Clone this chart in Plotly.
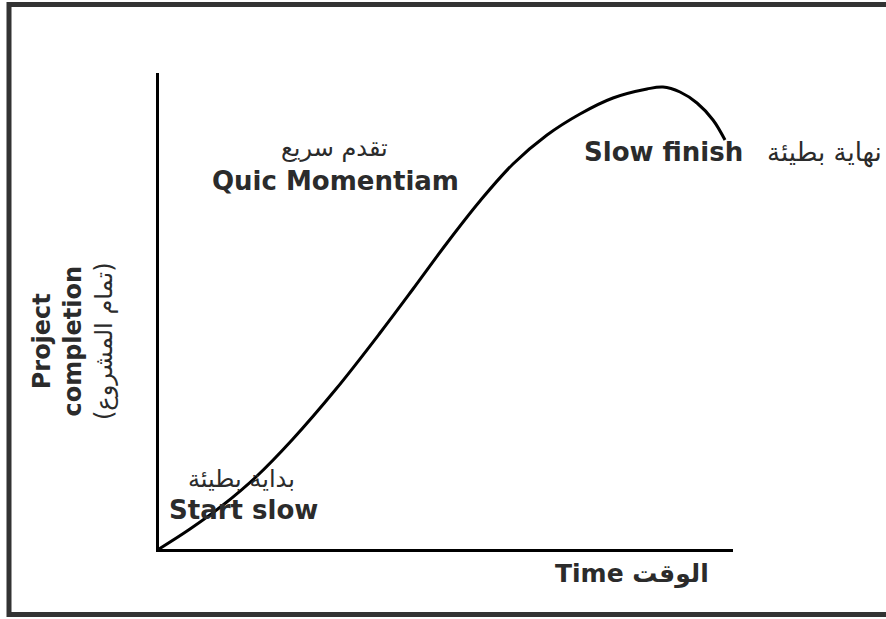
import plotly.graph_objects as go

# Curve of project completion over time (0-100 scale on both axes)
time_vals = [0, 5.4, 11.15, 17.07, 23.17, 30.84, 38.5, 44.25, 50.17, 55.92, 61.67,
             67.6, 73.34, 79.09, 85.02, 87.8, 90.77, 93.73, 96.52, 98.61]
completion_vals = [0, 4.2, 9.24, 15.34, 22.9, 33.61, 45.38, 54.62, 64.29, 73.11, 80.88,
                   86.97, 91.39, 94.75, 96.64, 97.06, 96.01, 93.7, 90.13, 85.92]

W, H = 886, 619
L, R, T, B = 159, 733, 73, 549


def px(x):
    return (x - L) / (R - L)


def py(y):
    return (B - y) / (B - T)


fig = go.Figure()
fig.add_trace(go.Scatter(
    x=time_vals, y=completion_vals, mode="lines",
    line=dict(color="black", width=3, shape="spline", smoothing=1.0),
    hoverinfo="skip", showlegend=False,
))

EN = "DejaVu Sans"
TXT = "#2b2b2b"
ann = []


def add(text, x, y, size, xanchor="center", angle=0, bold=False):
    ann.append(dict(
        text=f"<b>{text}</b>" if bold else text,
        x=px(x), y=py(y), xref="paper", yref="paper",
        xanchor=xanchor, yanchor="middle", showarrow=False, textangle=angle,
        font=dict(family=EN, size=size, color=TXT),
    ))


add("تقدم سريع", 334, 148, 24)
add("Quic Momentiam", 335, 181, 26, bold=True)
add("Slow finish", 582, 152, 26, xanchor="left", bold=True)
add("نهاية بطيئة", 884, 152, 26, xanchor="right")
add("بداية بطيئة", 241, 479, 24)
add("Start slow", 243, 510, 26, bold=True)
add("Time الوقت", 632, 574, 25, bold=True)
ann.append(dict(
    text="<b>Project<br>completion</b><br>(تمام المشروع)",
    x=px(73), y=py(341), xref="paper", yref="paper",
    xanchor="center", yanchor="middle", showarrow=False, textangle=-90,
    font=dict(family=EN, size=24, color=TXT),
))

# outer frame (right side cropped in original)
frame = dict(color="#333333", width=5)
shapes = [
    dict(type="line", xref="paper", yref="paper", x0=px(9), x1=px(890), y0=py(4.5), y1=py(4.5), line=frame),
    dict(type="line", xref="paper", yref="paper", x0=px(9), x1=px(890), y0=py(614.5), y1=py(614.5), line=frame),
    dict(type="line", xref="paper", yref="paper", x0=px(9), x1=px(9), y0=py(2), y1=py(617), line=frame),
]

axis_common = dict(showline=True, linecolor="black", linewidth=3, showgrid=False,
                   zeroline=False, showticklabels=False, ticks="", range=[0, 100],
                   fixedrange=True)

fig.update_layout(
    width=W, height=H,
    margin=dict(l=L, r=W - R, t=T, b=H - B),
    paper_bgcolor="white", plot_bgcolor="white",
    xaxis=axis_common, yaxis=axis_common,
    annotations=ann, shapes=shapes,
)

fig.write_html("out.html", config={"displayModeBar": False},
               post_script="document.body.style.margin='0';document.body.style.overflow='hidden';")
